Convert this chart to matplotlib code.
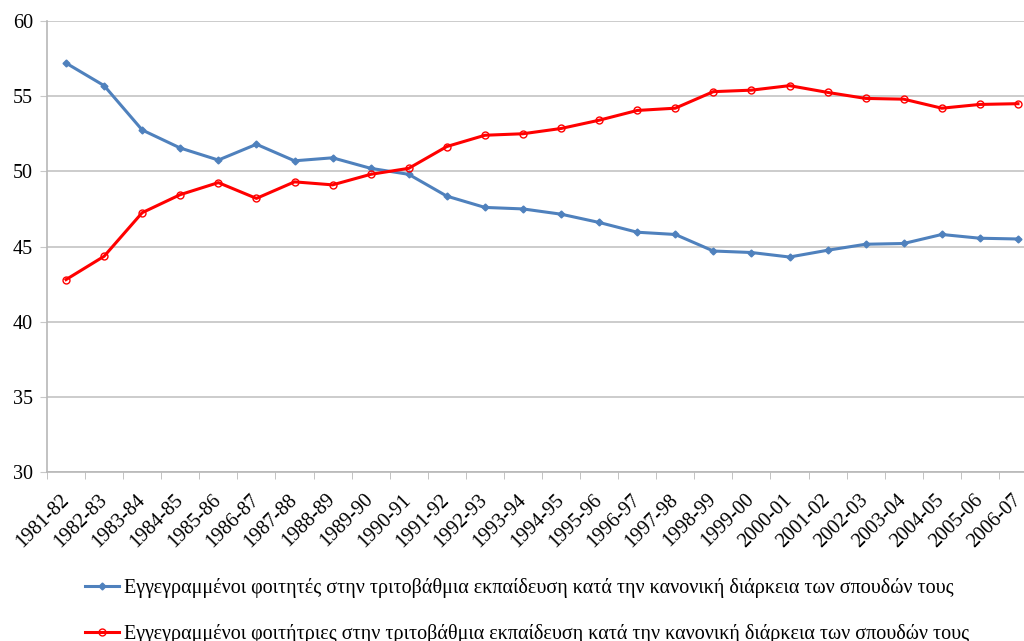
import matplotlib
matplotlib.use('Agg')
import matplotlib.pyplot as plt
import numpy as np

years = ['1981-82', '1982-83', '1983-84', '1984-85', '1985-86', '1986-87', '1987-88',
         '1988-89', '1989-90', '1990-91', '1991-92', '1992-93', '1993-94', '1994-95',
         '1995-96', '1996-97', '1997-98', '1998-99', '1999-00', '2000-01', '2001-02',
         '2002-03', '2003-04', '2004-05', '2005-06', '2006-07']

men = [57.2, 55.7, 52.75, 51.55, 50.75, 51.8, 50.7, 50.9, 50.2, 49.8, 48.35, 47.6, 47.5,
       47.15, 46.6, 45.95, 45.8, 44.7, 44.6, 44.3, 44.75, 45.15, 45.2, 45.8, 45.55, 45.5]
women = [42.8, 44.35, 47.25, 48.45, 49.25, 48.2, 49.3, 49.1, 49.8, 50.2, 51.65, 52.4, 52.5,
         52.85, 53.4, 54.05, 54.2, 55.3, 55.4, 55.7, 55.25, 54.85, 54.8, 54.2, 54.45, 54.5]

lab_men = 'Εγγεγραμμένοι φοιτητές στην τριτοβάθμια εκπαίδευση κατά την κανονική διάρκεια των σπουδών τους'
lab_women = 'Εγγεγραμμένοι φοιτήτριες στην τριτοβάθμια εκπαίδευση κατά την κανονική διάρκεια των σπουδών τους'

plt.rcParams['font.family'] = ['Liberation Serif', 'DejaVu Serif']
plt.rcParams['font.size'] = 14.5

fig = plt.figure(figsize=(10.24, 6.41), dpi=100)
ax = fig.add_axes([47/1024, 169/641, 990/1024, 451/641])

x = np.arange(len(years))
ax.plot(x, men, color='#4F81BD', lw=2.2, marker='D', markersize=3.5, label=lab_men, zorder=3)
ax.plot(x, women, color='#FF0000', lw=2.2, marker='o', markersize=5, markerfacecolor='none',
        markeredgewidth=1, label=lab_women, zorder=3)

ax.set_xlim(-0.5, len(years) - 0.5)
ax.set_ylim(30, 60)
ax.set_yticks(np.arange(30, 61, 5))
ax.yaxis.grid(True, color='#c8c8c8', lw=1.3)
ax.set_axisbelow(True)

ax.set_xticks(x)
ax.set_xticklabels(years, rotation=45, ha='right', va='center', rotation_mode='anchor')
ax.tick_params(axis='x', which='major', length=0, pad=18)
ax.set_xticks(np.arange(-0.5, len(years), 1), minor=True)
ax.tick_params(axis='x', which='minor', length=5, color='#b8b8b8')
ax.tick_params(axis='y', length=5, color='#c8c8c8', pad=5)

for s in ['top', 'right']:
    ax.spines[s].set_visible(False)
for s in ['left', 'bottom']:
    ax.spines[s].set_color('#b8b8b8')
    ax.spines[s].set_linewidth(1.2)

fig.legend(loc='upper center', bbox_to_anchor=(0.515, 0.111), frameon=False,
           handlelength=1.7, handletextpad=0.25, labelspacing=1.3, borderaxespad=0)

plt.savefig('out.png', dpi=100)
